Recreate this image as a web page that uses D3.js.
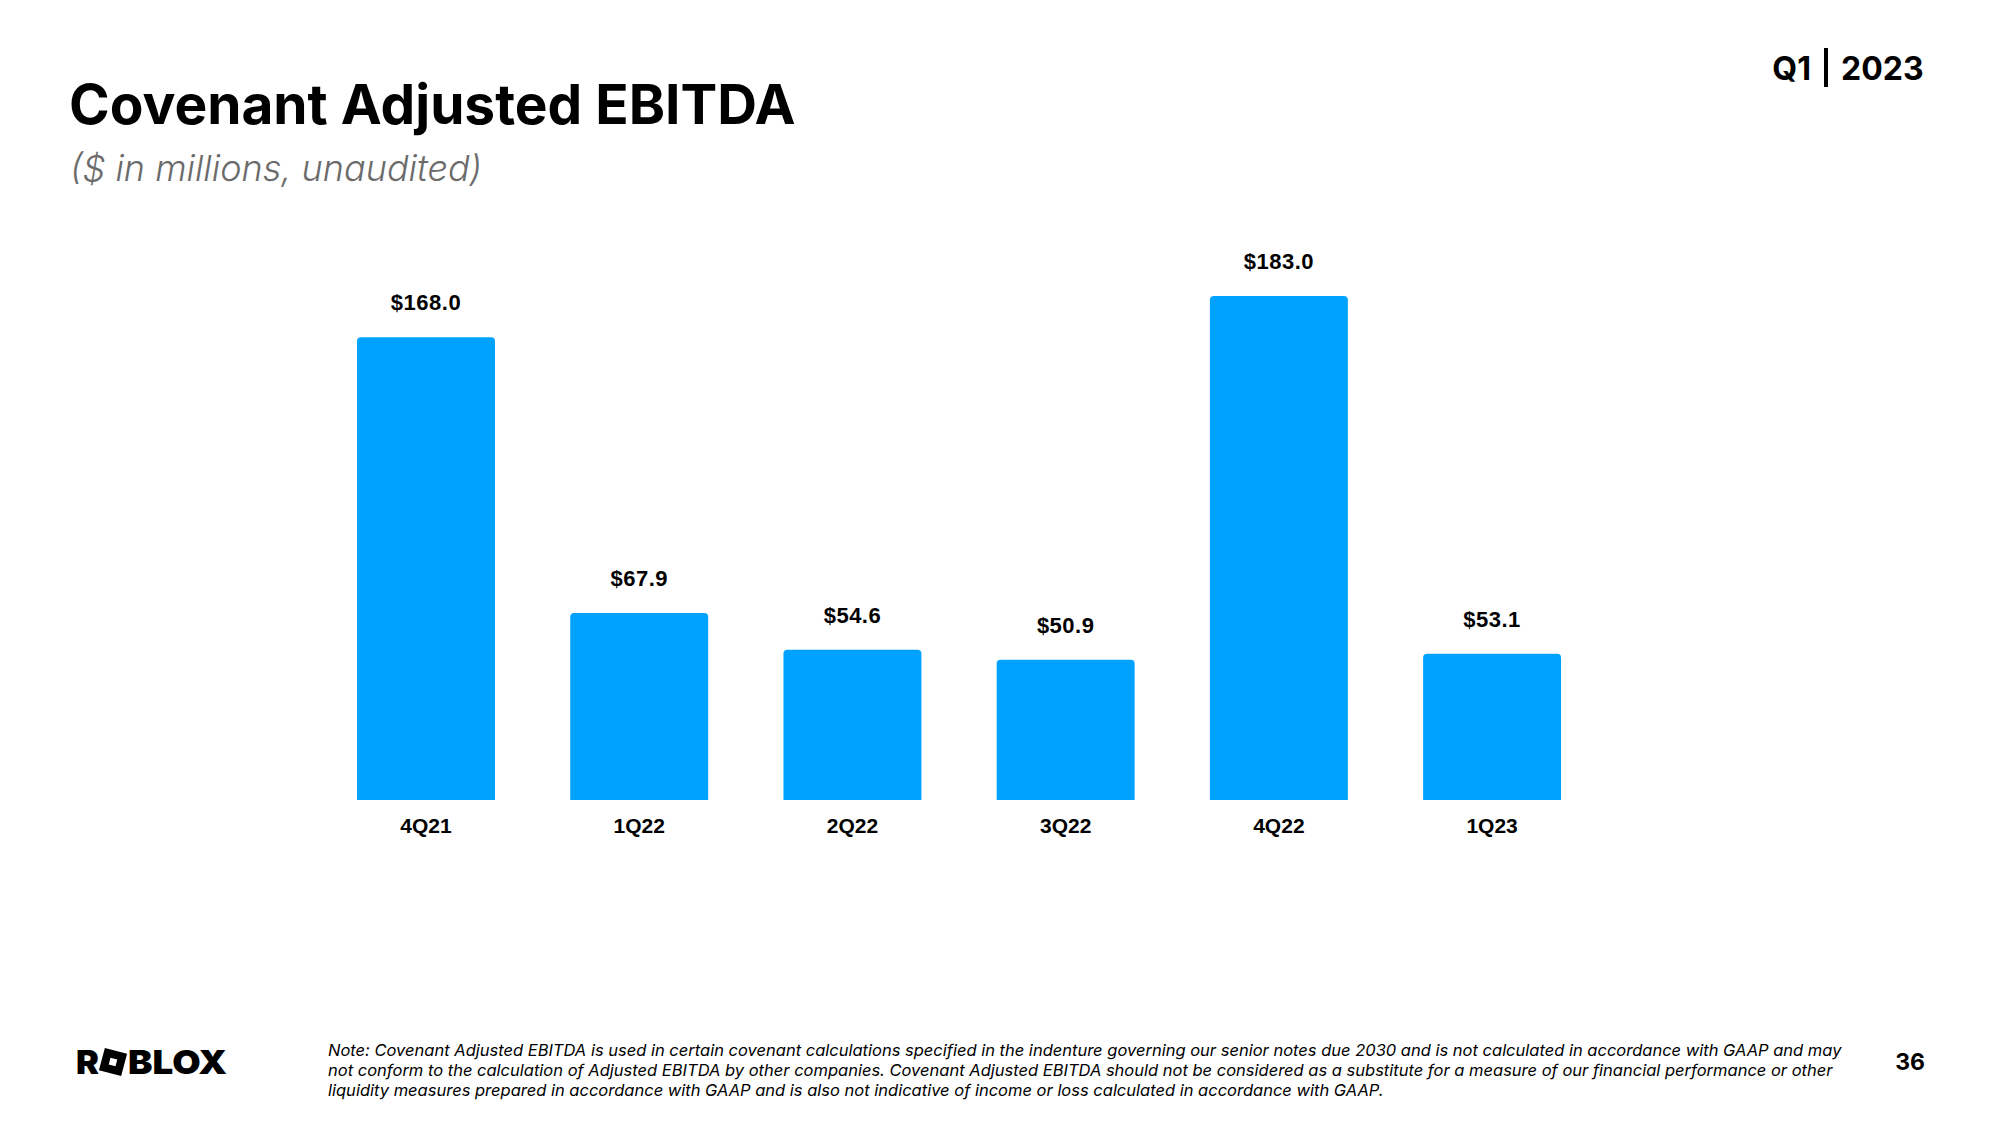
<!DOCTYPE html>
<html>
<head>
<meta charset="utf-8">
<script src="https://cdn.jsdelivr.net/npm/d3@7"></script>
<style>
  html, body { margin: 0; padding: 0; background: #fff; }
  svg { display: block; }
</style>
</head>
<body>
<script>
// ---- Data ----
const categories = ["4Q21", "1Q22", "2Q22", "3Q22", "4Q22", "1Q23"];
const values = [168.0, 67.9, 54.6, 50.9, 183.0, 53.1];
const valueLabels = ["$168.0", "$67.9", "$54.6", "$50.9", "$183.0", "$53.1"];

const title = "Covenant Adjusted EBITDA";
const subtitle = "($ in millions, unaudited)";
const noteLines = [
  "Note: Covenant Adjusted EBITDA is used in certain covenant calculations specified in the indenture governing our senior notes due 2030 and is not calculated in accordance with GAAP and may",
  "not conform to the calculation of Adjusted EBITDA by other companies. Covenant Adjusted EBITDA should not be considered as a substitute for a measure of our financial performance or other",
  "liquidity measures prepared in accordance with GAAP and is also not indicative of income or loss calculated in accordance with GAAP."
];

const W = 2000, H = 1125;
const svg = d3.select("body").append("svg").attr("width", W).attr("height", H);
svg.append("rect").attr("width", W).attr("height", H).attr("fill", "#fff");

// ---- Header ----
svg.append("text").attr("x", 69).attr("y", 124)
  .attr("font-family", "Inter, 'Noto Sans', sans-serif").attr("font-weight", 700)
  .attr("font-size", 55).attr("fill", "#000").text(title);
svg.append("text").attr("x", 70).attr("y", 181)
  .attr("font-family", "Inter, 'Noto Sans', sans-serif").attr("font-style", "italic").attr("font-weight", 300)
  .attr("font-size", 36).attr("fill", "#6b6b6b").text(subtitle);

// Q1 | 2023
svg.append("text").attr("x", 1811).attr("y", 80).attr("text-anchor", "end")
  .attr("font-family", "Inter, sans-serif").attr("font-weight", 700)
  .attr("font-size", 32).attr("fill", "#000").text("Q1");
svg.append("rect").attr("x", 1824).attr("y", 48).attr("width", 4).attr("height", 39).attr("fill", "#000");
svg.append("text").attr("x", 1841).attr("y", 80)
  .attr("font-family", "Inter, sans-serif").attr("font-weight", 700)
  .attr("font-size", 32).attr("fill", "#000").text("2023");

// ---- Chart ----
const x = d3.scaleBand().domain(categories)
  .range([319.4, 1598.7]).paddingInner(0.353).paddingOuter(0.1765);
const y = d3.scaleLinear().domain([0, 183]).range([800, 296]);

function topRounded(x0, y0, w, h, r) {
  r = Math.min(r, h, w / 2);
  return `M${x0},${y0 + h}V${y0 + r}Q${x0},${y0} ${x0 + r},${y0}H${x0 + w - r}Q${x0 + w},${y0} ${x0 + w},${y0 + r}V${y0 + h}Z`;
}

const g = svg.append("g");
g.selectAll("path.bar").data(values).join("path").attr("class", "bar")
  .attr("d", (d, i) => topRounded(x(categories[i]), y(d), x.bandwidth(), y(0) - y(d), 4))
  .attr("fill", "#00a2ff");

g.selectAll("text.val").data(values).join("text").attr("class", "val")
  .attr("x", (d, i) => x(categories[i]) + x.bandwidth() / 2)
  .attr("y", d => y(d) - 27)
  .attr("text-anchor", "middle")
  .attr("font-family", "'Liberation Sans', Arial, sans-serif").attr("font-weight", 700)
  .attr("font-size", 22).attr("letter-spacing", 0.5).attr("fill", "#000")
  .text((d, i) => valueLabels[i]);

const xAxis = d3.axisBottom(x).tickSize(0).tickPadding(0);
const ax = svg.append("g").attr("transform", `translate(0,${y(0)})`).call(xAxis);
ax.select(".domain").remove();
ax.selectAll("text")
  .attr("dy", 0).attr("y", 33)
  .attr("font-family", "'Liberation Sans', Arial, sans-serif").attr("font-weight", 700)
  .attr("font-size", 21).attr("fill", "#000");

// ---- Footer ----
const logo = svg.append("g");
const lf = "Inter, 'DejaVu Sans', sans-serif";
logo.append("text").attr("x", 76).attr("y", 1074)
  .attr("font-family", lf).attr("font-weight", 900).attr("font-size", 33).attr("fill", "#000")
  .attr("textLength", 23).attr("lengthAdjust", "spacingAndGlyphs").text("R");
const sq = logo.append("g").attr("transform", "translate(113,1062) rotate(15)");
sq.append("rect").attr("x", -11.5).attr("y", -11.5).attr("width", 23).attr("height", 23).attr("fill", "#000");
sq.append("rect").attr("x", -3.5).attr("y", -3.5).attr("width", 7).attr("height", 7).attr("fill", "#fff");
logo.append("text").attr("x", 128).attr("y", 1074)
  .attr("font-family", lf).attr("font-weight", 900).attr("font-size", 33).attr("fill", "#000")
  .attr("textLength", 99).attr("lengthAdjust", "spacingAndGlyphs").text("BLOX");

svg.append("g").selectAll("text").data(noteLines).join("text")
  .attr("x", 328).attr("y", (d, i) => 1056 + i * 20)
  .attr("font-family", "Inter, sans-serif").attr("font-style", "italic")
  .attr("font-size", 16.5).attr("fill", "#000").text(d => d);

svg.append("text").attr("x", 1925).attr("y", 1070).attr("text-anchor", "end")
  .attr("font-family", "Inter, sans-serif").attr("font-weight", 700)
  .attr("font-size", 23).attr("fill", "#000").text("36");
</script>
</body>
</html>
